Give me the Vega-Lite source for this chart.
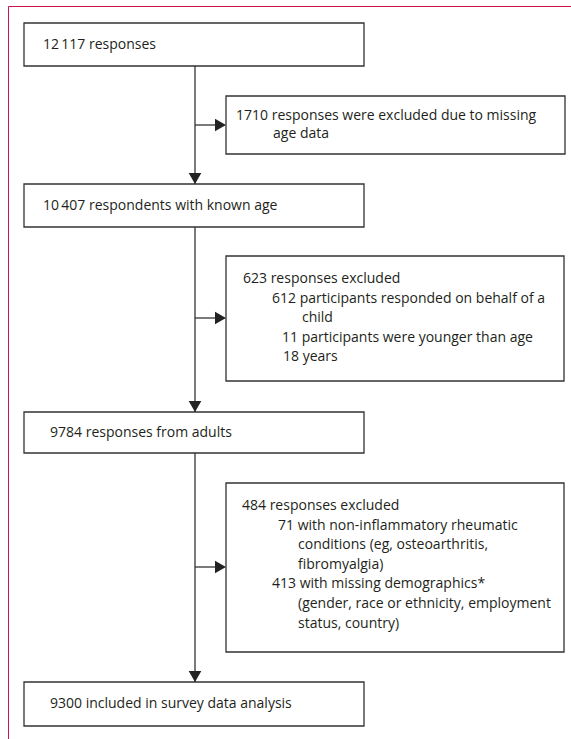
{
  "$schema": "https://vega.github.io/schema/vega-lite/v6.json",
  "width": 571,
  "height": 739,
  "padding": 0,
  "autosize": {"type": "none"},
  "background": "white",
  "config": {"view": {"stroke": null}},
  "datasets": {
    "frame": [
      {"x1": 8.5, "y1": 6.5, "x2": 571, "y2": 6.5},
      {"x1": 8.5, "y1": 6.5, "x2": 8.5, "y2": 739}
    ],
    "links": [
      {"x1": 195, "y1": 66, "x2": 195, "y2": 682},
      {"x1": 195, "y1": 125, "x2": 222, "y2": 125},
      {"x1": 195, "y1": 318, "x2": 222, "y2": 318},
      {"x1": 195, "y1": 567, "x2": 222, "y2": 567}
    ],
    "boxes": [
      {"id": "total", "x1": 24, "x2": 364, "y1": 23, "y2": 66},
      {"id": "noage", "x1": 226, "x2": 565, "y1": 96, "y2": 154},
      {"id": "knownage", "x1": 24, "x2": 364, "y1": 184, "y2": 227},
      {"id": "child", "x1": 226, "x2": 564, "y1": 256, "y2": 381},
      {"id": "adults", "x1": 24, "x2": 364, "y1": 412, "y2": 453},
      {"id": "other", "x1": 226, "x2": 564, "y1": 483, "y2": 652},
      {"id": "final", "x1": 24, "x2": 364, "y1": 682, "y2": 726}
    ],
    "heads": [
      {"x": 195, "y": 178.5, "dir": "triangle-down"},
      {"x": 195, "y": 406.5, "dir": "triangle-down"},
      {"x": 195, "y": 676.5, "dir": "triangle-down"},
      {"x": 220.5, "y": 125, "dir": "triangle-right"},
      {"x": 220.5, "y": 318, "dir": "triangle-right"},
      {"x": 220.5, "y": 567, "dir": "triangle-right"}
    ],
    "labels": [
      {"x": 43, "y": 45, "t": "12\u2009117 responses"},
      {"x": 236, "y": 116, "t": "1710 responses were excluded due to missing"},
      {"x": 273, "y": 134, "t": "age data"},
      {"x": 43, "y": 206, "t": "10\u2009407 respondents with known age"},
      {"x": 243, "y": 279, "t": "623 responses excluded"},
      {"x": 272, "y": 298.5, "t": "612 participants responded on behalf of a"},
      {"x": 302, "y": 318, "t": "child"},
      {"x": 282, "y": 337.5, "t": "11 participants were younger than age"},
      {"x": 283, "y": 357, "t": "18 years"},
      {"x": 50, "y": 433, "t": "9784 responses from adults"},
      {"x": 242, "y": 506, "t": "484 responses excluded"},
      {"x": 278, "y": 525.6, "t": "71 with non-inflammatory rheumatic"},
      {"x": 298, "y": 545.2, "t": "conditions (eg, osteoarthritis,"},
      {"x": 298, "y": 564.8, "t": "fibromyalgia)"},
      {"x": 272, "y": 584.4, "t": "413 with missing demographics*"},
      {"x": 298, "y": 604, "t": "(gender, race or ethnicity, employment"},
      {"x": 298, "y": 623.6, "t": "status, country)"},
      {"x": 50, "y": 704, "t": "9300 included in survey data analysis"}
    ]
  },
  "layer": [
    {
      "data": {"name": "frame"},
      "mark": {"type": "rule", "color": "#d0124a", "strokeWidth": 1},
      "encoding": {
        "x": {"field": "x1", "type": "quantitative", "scale": {"domain": [0, 571], "nice": false, "zero": false}, "axis": null},
        "y": {"field": "y1", "type": "quantitative", "scale": {"domain": [0, 739], "nice": false, "zero": false, "reverse": true}, "axis": null},
        "x2": {"field": "x2"},
        "y2": {"field": "y2"}
      }
    },
    {
      "data": {"name": "links"},
      "mark": {"type": "rule", "color": "#333333", "strokeWidth": 1.3},
      "encoding": {
        "x": {"field": "x1", "type": "quantitative"},
        "y": {"field": "y1", "type": "quantitative"},
        "x2": {"field": "x2"},
        "y2": {"field": "y2"}
      }
    },
    {
      "data": {"name": "boxes"},
      "mark": {"type": "rect", "fill": "white", "stroke": "#333333", "strokeWidth": 1.3},
      "encoding": {
        "x": {"field": "x1", "type": "quantitative"},
        "y": {"field": "y1", "type": "quantitative"},
        "x2": {"field": "x2"},
        "y2": {"field": "y2"}
      }
    },
    {
      "data": {"name": "heads"},
      "mark": {"type": "point", "filled": true, "color": "#222222", "opacity": 1, "size": 160},
      "encoding": {
        "x": {"field": "x", "type": "quantitative"},
        "y": {"field": "y", "type": "quantitative"},
        "shape": {"field": "dir", "type": "nominal", "scale": null, "legend": null}
      }
    },
    {
      "data": {"name": "labels"},
      "mark": {"type": "text", "align": "left", "baseline": "middle", "font": "Open Sans", "fontSize": 14, "color": "#231f20"},
      "encoding": {
        "x": {"field": "x", "type": "quantitative"},
        "y": {"field": "y", "type": "quantitative"},
        "text": {"field": "t", "type": "nominal"}
      }
    }
  ]
}
